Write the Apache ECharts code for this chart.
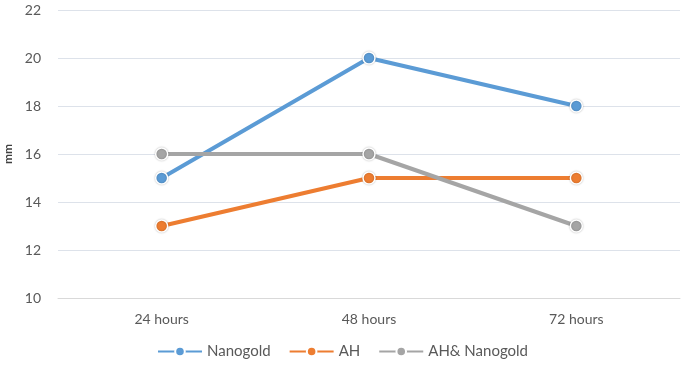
<!DOCTYPE html>
<html>
<head>
<meta charset="UTF-8">
<script src="https://cdn.jsdelivr.net/npm/echarts@6/dist/echarts.min.js"></script>
<style>
  body { margin: 0; background: #fff; }
  #root { width: 685px; height: 366px; }
</style>
</head>
<body>
<div id="root"></div>
<script>
  var categories = ['24 hours', '48 hours', '72 hours'];
  var nanogold = [15, 20, 18];
  var ah = [13, 15, 15];
  var ahNanogold = [16, 16, 13];

  var font = 'Lato, "Open Sans", sans-serif';

  function line(name, data, color) {
    return {
      name: name,
      type: 'line',
      data: data,
      symbol: 'circle',
      symbolSize: 12,
      lineStyle: { width: 4, color: color },
      itemStyle: { color: color, borderColor: '#fff', borderWidth: 1.5, shadowColor: 'rgba(0,0,0,0.25)', shadowBlur: 2 },
      emphasis: { disabled: true }
    };
  }

  var chart = echarts.init(document.getElementById('root'));
  chart.setOption({
    animation: false,
    grid: { left: 58, right: 5, top: 10, bottom: 68, outerBoundsMode: 'none' },
    legend: {
      bottom: 2,
      left: 'center',
      itemWidth: 44,
      itemHeight: 12,
      itemGap: 18,
      textStyle: { fontFamily: font, fontSize: 15, color: '#595959' },
      data: ['Nanogold', 'AH', 'AH& Nanogold']
    },
    xAxis: {
      type: 'category',
      data: categories,
      axisLine: { lineStyle: { color: '#d9d9d9' } },
      axisTick: { show: false },
      axisLabel: { fontFamily: font, fontSize: 14, color: '#595959', margin: 14 }
    },
    yAxis: {
      type: 'value',
      min: 10,
      max: 22,
      interval: 2,
      name: 'mm',
      nameLocation: 'middle',
      nameGap: 44,
      nameTextStyle: { fontFamily: font, fontSize: 12, fontWeight: 'bold', color: '#404040' },
      axisLabel: { fontFamily: font, fontSize: 14, color: '#595959', margin: 17 },
      splitLine: { lineStyle: { color: '#dde2ea', width: 1 } }
    },
    series: [
      line('Nanogold', nanogold, '#5b9bd5'),
      line('AH', ah, '#ed7d31'),
      line('AH& Nanogold', ahNanogold, '#a5a5a5')
    ]
  });
</script>
</body>
</html>
